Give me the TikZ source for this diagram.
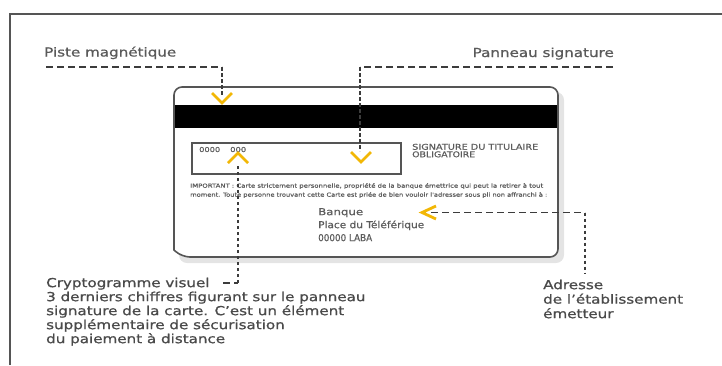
\documentclass[tikz,border=0pt]{standalone}
\usepackage{fontspec}
\setmainfont{DejaVu Sans}[FakeStretch=1.22, FakeBold=0.9]
\newfontfamily\cardfont{DejaVu Sans}[FakeBold=0.6]
\usetikzlibrary{calc}

\definecolor{labelgray}{HTML}{5A5A5A}
\definecolor{notegray}{HTML}{4A4A4A}
\definecolor{cardgray}{HTML}{5C5C5C}
\definecolor{edgegray}{HTML}{555555}
\definecolor{shadowgray}{HTML}{E4E4E4}
\definecolor{dashgray}{HTML}{3C3C3C}
\definecolor{pointer}{HTML}{F2B705}

% stretch a line of text horizontally to a given width, keeping its height
\newcommand\fitto[2]{\resizebox{#1}{\height}{#2}}

\tikzset{
  label/.style={inner sep=0pt, text=labelgray, font=\fontsize{12.4}{14}\selectfont},
  note/.style={inner sep=0pt, text=notegray, align=left, font=\fontsize{12.4}{14}\selectfont},
  cardtext/.style={inner sep=0pt, text=cardgray, align=left},
  hdash/.style={draw=dashgray, line width=1.8pt, dash pattern=on 7pt off 4pt},
  vdash/.style={draw=dashgray, line width=2.2pt, dash pattern=on 3.5pt off 2.5pt},
  chev/.style={draw=pointer, line width=2.8pt, line join=miter},
}

\begin{document}
\begin{tikzpicture}[x=1pt,y=-1pt]
\useasboundingbox (0,0) rectangle (722,365);

% outer frame (open to the right and bottom)
\draw[edgegray, line width=1.5pt] (10,365) -- (10,14) -- (722,14);

% the back of the card, with its soft shadow
\fill[shadowgray, rounded corners=8pt] (179,92) rectangle (564,263);
\filldraw[fill=white, draw=edgegray, line width=1.6pt]
  (174,250) [rounded corners=8pt] -- (174,87) -- (558,87) -- (558,257) -- (182,257) [sharp corners] -- cycle;
\fill[black] (174.8,105) rectangle (557.2,128);

% signature panel
\node[draw=edgegray, line width=1.6pt, minimum width=209pt, minimum height=31pt,
      inner sep=0pt, anchor=north west] (sigpanel) at (191,142) {};
\node[cardtext, font=\cardfont\fontsize{6.8}{8}\selectfont, anchor=base west] (numA) at (199,152) {\fitto{21pt}{0000}};
\node[cardtext, font=\cardfont\fontsize{6.8}{8}\selectfont, anchor=base west] (numB) at (230,152) {\fitto{16pt}{000}};

\node[cardtext, font=\cardfont\fontsize{8}{7.5}\selectfont, anchor=north west] (sigtext) at (412,143.6)
  {\fitto{126pt}{SIGNATURE DU TITULAIRE}\\\fitto{63pt}{OBLIGATOIRE}};

\node[cardtext, font=\cardfont\fontsize{5.6}{9}\selectfont, anchor=north west] (important) at (190,183)
  {\fitto{353pt}{IMPORTANT : Carte strictement personnelle, propriété de la banque émettrice qui peut la retirer à tout}\\
   \fitto{357pt}{moment. Toute personne trouvant cette Carte est priée de bien vouloir l'adresser sous pli non affranchi à :}};

\node[cardtext, font=\cardfont\fontsize{9.5}{13}\selectfont, anchor=north west] (bank) at (318,208)
  {\fitto{45pt}{Banque}\\\fitto{106pt}{Place du Téléférique}\\\fitto{54pt}{00000 LABA}};

% labels
\node[label, anchor=base west] (piste) at (44,56.5) {Piste magnétique};
\node[label, anchor=base east] (panneau) at (614,57) {Panneau signature};
\node[note, anchor=north west] (crypto) at (46,277.5)
  {Cryptogramme visuel\\
   3 derniers chiffres figurant sur le panneau\\
   signature de la carte. C'est un élément\\
   supplémentaire de sécurisation\\
   du paiement à distance};
\node[note, anchor=north west, font=\fontsize{12.4}{14.5}\selectfont] (adresse) at (543,279.5)
  {Adresse\\de l'établissement\\émetteur};

% yellow pointers
\coordinate (tipP) at (222,103);
\coordinate (tipS) at (361,162);
\coordinate (tipC) at (238,153);
\coordinate (tipA) at (422,212.5);
\draw[chev] ($(tipP)+(-10,-10)$) -- (tipP) -- ($(tipP)+(10,-10)$);
\draw[chev] ($(tipS)+(-10,-10)$) -- (tipS) -- ($(tipS)+(10,-10)$);
\draw[chev] ($(tipC)+(-10,10)$) -- (tipC) -- ($(tipC)+(10,10)$);
\draw[chev] ($(tipA)+(14,-6.5)$) -- (tipA) -- ($(tipA)+(14,6.5)$);

% dashed leaders
\coordinate (pisteStart) at (46,67);
\coordinate (pisteCorner) at (222,67);
\coordinate (pisteEnd) at (222,97);
\draw[hdash] (pisteStart) -- (pisteCorner);
\draw[vdash] (pisteCorner) -- (pisteEnd);

\coordinate (sigStart) at (613,67);
\coordinate (sigCorner) at (360,67);
\coordinate (sigEnd) at (360,151);
\draw[hdash] (sigStart) -- (sigCorner);
\draw[vdash] (sigCorner) -- (sigEnd);

\coordinate (cryStart) at (223,283);
\coordinate (cryCorner) at (238,283);
\coordinate (cryEnd) at (238,165);
\draw[hdash] (cryStart) -- (cryCorner);
\draw[vdash] (cryCorner) -- (cryEnd);

\coordinate (adrStart) at (431,212.5);
\coordinate (adrCorner) at (585,212.5);
\coordinate (adrEnd) at (585,274);
\draw[hdash] (adrStart) -- (adrCorner);
\draw[vdash] (adrCorner) -- (adrEnd);
\end{tikzpicture}
\end{document}
